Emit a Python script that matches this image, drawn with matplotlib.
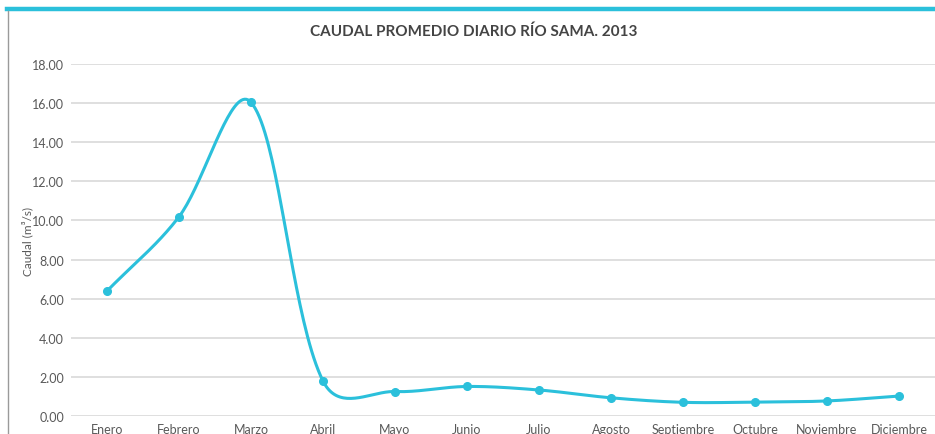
import numpy as np
import matplotlib
matplotlib.use("Agg")
import matplotlib.pyplot as plt
from matplotlib.lines import Line2D

plt.rcParams['font.family'] = ['Lato', 'DejaVu Sans']

meses = ['Enero', 'Febrero', 'Marzo', 'Abril', 'Mayo', 'Junio', 'Julio',
         'Agosto', 'Septiembre', 'Octubre', 'Noviembre', 'Diciembre']
caudal = [6.39, 10.19, 16.04, 1.79, 1.25, 1.51, 1.33, 0.93, 0.70, 0.71, 0.77, 1.02]
yticks = [0, 2, 4, 6, 8, 10, 12, 14, 16, 18]

cyan = '#2BC0DB'
gris = '#595959'


def smooth(x, y, sx=72.0, sy=19.5, n=40, a=0.5):
    # bezier suavizado (tangentes escaladas por longitud de cuerda, en pixeles)
    P = np.column_stack([np.asarray(x, float) * sx, np.asarray(y, float) * sy])
    m = len(P)
    cin = P.copy()
    cout = P.copy()
    for i in range(m):
        p = P[max(i - 1, 0)]
        q = P[min(i + 1, m - 1)]
        T = q - p
        dp = np.hypot(*(P[i] - p)) ** a
        dn = np.hypot(*(q - P[i])) ** a
        if dp + dn == 0:
            continue
        cout[i] = P[i] + T * dn / (dp + dn) / 3
        cin[i] = P[i] - T * dp / (dp + dn) / 3
    t = np.linspace(0, 1, n)[:, None]
    pts = []
    for i in range(m - 1):
        p0, c1, c2, p3 = P[i], cout[i], cin[i + 1], P[i + 1]
        b = (1 - t) ** 3 * p0 + 3 * (1 - t) ** 2 * t * c1 + 3 * (1 - t) * t ** 2 * c2 + t ** 3 * p3
        pts.append(b)
    pts = np.vstack(pts)
    return pts[:, 0] / sx, pts[:, 1] / sy


fig = plt.figure(figsize=(9.35, 4.35), dpi=100)

# marco: barra superior y borde izquierdo
fig.add_artist(Line2D([7 / 935, 1], [1 - 10 / 435, 1 - 10 / 435], color=cyan, lw=3.2,
                      transform=fig.transFigure))
fig.add_artist(Line2D([8 / 935, 8 / 935], [0, 1 - 12 / 435], color='#9a9a9a', lw=1.0,
                      transform=fig.transFigure))

ax = fig.add_axes([71 / 935, 18 / 435, 864 / 935, 352 / 435])
x = np.arange(len(meses))
lx, ly = smooth(x, caudal)
ax.plot(lx, ly, color=cyan, lw=2.2, solid_capstyle='round', zorder=3)
ax.plot(x, caudal, 'o', color=cyan, ms=5.5, zorder=4)

ax.set_xlim(-0.5, len(meses) - 0.5)
ax.set_ylim(0, 18)
ax.set_yticks(yticks)
ax.set_yticklabels(['%.2f' % v for v in yticks])
ax.set_xticks(x)
ax.set_xticklabels(meses)
ax.tick_params(axis='both', length=0, labelsize=9, colors=gris)
ax.tick_params(axis='x', pad=5)
ax.tick_params(axis='y', pad=5)
ax.grid(axis='y', color='#d9d9d9', lw=1.2)
ax.set_axisbelow(True)
for s in ax.spines.values():
    s.set_visible(False)

ax.set_ylabel('Caudal (m³/s)', fontsize=8.5, color=gris)
ax.yaxis.set_label_coords(-38 / 864, 0.5)
fig.text(474 / 935, 1 - 32 / 435, 'CAUDAL PROMEDIO DIARIO RÍO SAMA. 2013', ha='center', va='center',
         fontsize=11, fontweight='bold', color='#444444')

fig.savefig('out.png', dpi=100)
